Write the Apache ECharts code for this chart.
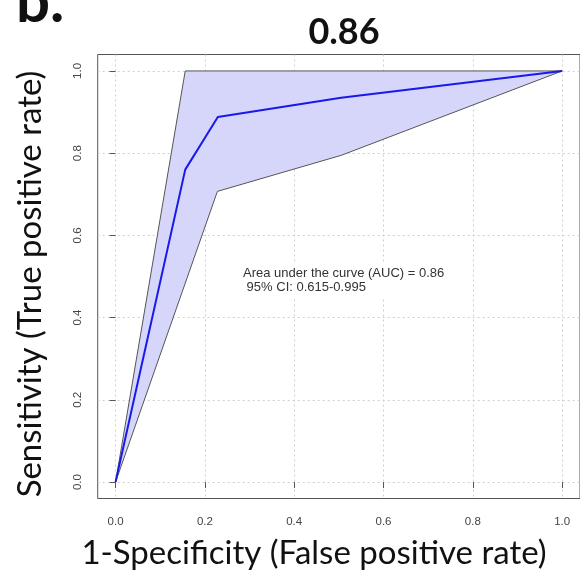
<!DOCTYPE html>
<html>
<head>
<meta charset="utf-8">
<script src="https://cdn.jsdelivr.net/npm/echarts@6/dist/echarts.min.js"></script>
<style>
  html, body { margin: 0; padding: 0; background: #fff; }
  #chart-container { width: 580px; height: 571px; }
</style>
</head>
<body>
<div id="chart-container"></div>
<script>
// ROC curve
var rocFpr = [0, 0.156, 0.229, 0.505, 1];
var rocTpr = [0, 0.76, 0.888, 0.935, 1];
// 95% CI bounds
var ciUpperFpr = [0, 0.156, 1];
var ciUpperTpr = [0, 1, 1];
var ciLowerFpr = [0, 0.228, 0.506, 1];
var ciLowerTpr = [0, 0.707, 0.795, 1];
// tick labels
var tickValues = [0, 0.2, 0.4, 0.6, 0.8, 1.0];

var dom = document.getElementById('chart-container');
var myChart = echarts.init(dom, null, { renderer: 'canvas' });

function pairs(xs, ys) {
  return xs.map(function (x, i) { return [x, ys[i]]; });
}

var axisCommon = {
  type: 'value',
  min: -0.04,
  max: 1.04,
  interval: 0.1,
  axisLine: { show: false },
  axisTick: {
    show: true,
    customValues: tickValues,
    length: 6,
    lineStyle: { color: '#555' }
  },
  axisLabel: {
    customValues: tickValues,
    formatter: function (v) { return v.toFixed(1); },
    fontFamily: 'Liberation Sans',
    fontSize: 11.5,
    color: '#444'
  },
  splitLine: {
    show: true,
    lineStyle: { color: '#cfcfcf', type: [2, 3], width: 1 }
  }
};

var option = {
  animation: false,
  grid: {
    left: 97.7,
    top: 54.5,
    width: 486,
    height: 444,
    show: true,
    borderColor: '#555',
    borderWidth: 1
  },
  xAxis: Object.assign({}, axisCommon, {
    axisLabel: Object.assign({}, axisCommon.axisLabel, { margin: 17 })
  }),
  yAxis: Object.assign({}, axisCommon, {
    axisLabel: Object.assign({}, axisCommon.axisLabel, { rotate: 90, margin: 14 })
  }),
  graphic: [
    {
      type: 'text', left: 16, top: -27,
      style: { text: 'b.', font: 'bold 60px Lato', fill: '#111' }
    },
    {
      type: 'text', x: 344, y: 32,
      style: { text: '0.86', font: 'bold 36px Lato', fill: '#111', textAlign: 'center', textVerticalAlign: 'middle' }
    },
    {
      type: 'text', x: 314, y: 553,
      style: { text: '1-Specificity (False positive rate)', font: '33px Lato', fill: '#111', textAlign: 'center', textVerticalAlign: 'middle' }
    },
    {
      type: 'text', x: 30, y: 284, rotation: Math.PI / 2,
      style: { text: 'Sensitivity (True positive rate)', font: '33px Lato', fill: '#111', textAlign: 'center', textVerticalAlign: 'middle' }
    },
    {
      type: 'text', x: 242, y: 263, z: 10,
      style: {
        text: 'Area under the curve (AUC) = 0.86\n 95% CI: 0.615-0.995',
        font: '13px Liberation Sans',
        lineHeight: 14,
        fill: '#333',
        backgroundColor: '#fff',
        padding: [3, 2, 3, 1]
      }
    }
  ],
  series: [
    {
      type: 'custom',
      data: [0],
      z: 1,
      renderItem: function (params, api) {
        var pts = pairs(ciUpperFpr, ciUpperTpr)
          .concat(pairs(ciLowerFpr, ciLowerTpr).reverse())
          .map(function (p) { return api.coord(p); });
        return {
          type: 'polygon',
          shape: { points: pts },
          style: { fill: '#d6d6fa', stroke: 'none' }
        };
      }
    },
    {
      type: 'line',
      data: pairs(ciUpperFpr, ciUpperTpr),
      symbol: 'none',
      z: 3,
      lineStyle: { color: '#555', width: 1 }
    },
    {
      type: 'line',
      data: pairs(ciLowerFpr, ciLowerTpr),
      symbol: 'none',
      z: 3,
      lineStyle: { color: '#555', width: 1 }
    },
    {
      type: 'line',
      data: pairs(rocFpr, rocTpr),
      symbol: 'none',
      z: 4,
      lineStyle: { color: '#1a1ae8', width: 2 }
    }
  ]
};

myChart.setOption(option);
window.addEventListener('resize', myChart.resize);
</script>
</body>
</html>
